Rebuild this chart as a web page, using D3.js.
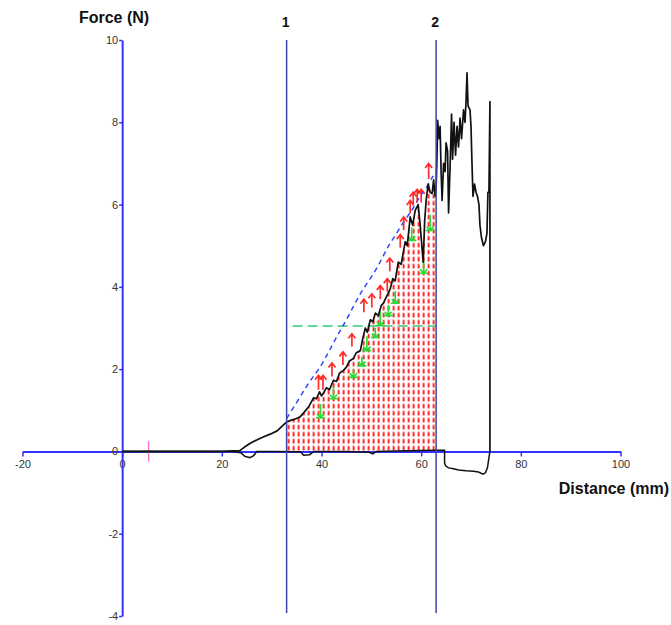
<!DOCTYPE html>
<html><head><meta charset="utf-8">
<script src="https://cdn.jsdelivr.net/npm/d3@7"></script>
<style>body{margin:0;background:#fff} svg{display:block}</style>
</head><body>
<svg id="c" width="671" height="625"></svg>
<script>
// ---------- data ----------
const xTicks = [-20, 0, 20, 40, 60, 80, 100];
const yTicks = [-4, -2, 0, 2, 4, 6, 8, 10];
const markerLabels = ["1", "2"];
const markerX = [33, 63];

// approach (forward) trace: [distance mm, force N]
const approach = [
 [0,0],[10,0],[20,0],[23.6,0.02],[24.5,0.1],[25.7,0.2],[27,0.28],[28.3,0.35],[29.7,0.42],[31.1,0.5],[32,0.6],[32.7,0.68],
 [33,0.72],[34,0.76],[35,0.8],[35.7,0.84],[36.5,0.95],[37.5,1.1],[38.4,1.3],[39,1.28],[39.6,1.45],[40,1.35],[40.4,1.42],
 [41,1.55],[41.6,1.5],[42.4,1.73],[43,1.7],[43.6,1.9],[44.4,1.97],[45,2.05],[45.6,2.2],[46.4,2.26],[47,2.4],[47.8,2.45],
 [48.2,2.7],[48.8,3.0],[49.2,2.9],[49.8,3.2],[50.3,3.15],[50.8,3.36],[51.4,3.3],[52,3.55],[52.4,3.6],[53,3.75],[53.8,3.95],
 [54.3,4.2],[54.8,4.15],[55.4,4.6],[56,4.55],[56.8,5.1],[57.2,5.0],[57.8,5.7],[58.3,5.5],[58.8,5.86],[59.4,6.0],[59.8,5.5],
 [60.2,4.9],[60.4,4.6],[60.7,5.6],[61.0,6.1],[61.4,6.5],[61.8,6.3],[62.2,6.27],[62.5,6.6],[62.8,6.2],[63.0,6.4],
 [63.2,7.3],[63.3,8.05],[63.6,7.6],[63.8,7.9],[64.0,6.8],[64.2,6.1],[64.5,7.0],[64.8,6.8],[65.0,7.5],[65.3,7.3],[65.5,5.8],
 [65.8,6.9],[66.1,8.2],[66.3,7.1],[66.6,8.0],[66.9,7.2],[67.2,7.9],[67.5,7.4],[67.8,8.1],[68.1,7.6],[68.5,8.3],[68.8,8.0],
 [69.0,8.5],[69.2,9.2],[69.4,8.4],[69.8,8.3],[70.0,7.9],[70.2,7.0],[70.4,6.2],[70.7,6.5],[71.0,6.3],[71.3,6.2],[71.6,6.0],
 [71.8,5.5],[72.1,5.2],[72.5,5.0],[72.9,5.1],[73.2,5.3],[73.4,6.3],[73.6,6.3],[73.8,8.5],[73.8,0.0]
];
// retraction trace
const retract = [
 [73.8,0.0],[73.6,-0.15],[73.3,-0.4],[72.9,-0.52],[72.4,-0.55],[71.5,-0.5],[70.5,-0.48],[69,-0.47],[67.5,-0.45],
 [66.5,-0.42],[65.5,-0.4],[64.9,-0.35],[64.7,-0.28],[64.7,0.03],[63,0.03],[60,0.02],[55,0.01],[51,0.0],[50.3,-0.06],
 [49.6,-0.02],[45,0],[38.5,0],[37.6,-0.08],[36.4,-0.09],[35.8,-0.01],[30,0],[27,0],[26.4,-0.1],[25.6,-0.15],
 [24.6,-0.12],[23.8,-0.03],[22,0],[10,0],[0,0]
];
// fitted (blue dashed) curve
const fitCurve = [
 [33,0.8],[35.7,1.32],[37.7,1.73],[39.4,1.97],[41.4,2.4],[43.2,2.83],[44.4,3.06],[46.2,3.48],[47.8,3.84],[49.2,4.1],
 [51.2,4.45],[53.2,4.96],[54.4,5.17],[56.4,5.57],[58.4,5.9],[59.8,6.22],[60.8,6.35],[62.4,6.7]
];
const meanLevel = 3.05;
const meanRange = [34.2, 63];
// red (up) arrows: x, base, tip
const redArrowX    = [39.4, 40.3, 42.1, 44.3, 46.1, 48.5, 50.1, 51.8, 53.2, 53.7, 55.8, 56.5, 57.8, 58.4, 59.2, 60.0, 61.5];
const redArrowBase = [1.5, 1.5, 1.82, 2.1, 2.55, 3.38, 3.5, 3.7, 3.88, 4.38, 4.95, 5.38, 5.78, 5.98, 6.05, 6.05, 6.62];
const redArrowTip  = [1.85, 1.85, 2.15, 2.42, 2.86, 3.7, 3.83, 4.03, 4.2, 4.7, 5.27, 5.7, 6.1, 6.3, 6.37, 6.37, 7.0];
// green (down) arrows: x, top, bottom
const greenArrowX      = [39.8, 42.4, 46.4, 48.1, 49.1, 50.8, 51.8, 53.4, 54.8, 58.1, 60.5, 61.8];
const greenArrowTop    = [1.15, 1.58, 2.0, 2.3, 2.8, 3.0, 3.4, 3.55, 3.9, 5.45, 4.65, 5.75];
const greenArrowBottom = [0.82, 1.28, 1.8, 2.08, 2.45, 2.77, 3.06, 3.3, 3.6, 5.13, 4.33, 5.37];
const pinkTick = [5.3, -0.25, 0.25];
const greenSeg = [3.6, 7.2];

// ---------- drawing ----------
const svg = d3.select("#c");
const x = d3.scaleLinear().domain([-20, 100]).range([22.5, 620.5]);
const y = d3.scaleLinear().domain([-4, 10]).range([616, 40]);
const axisBlue = "#3333ff", lineBlue = "#3b44a8", red = "#ff2a2a", green = "#22dd33";
const font = "Liberation Sans, Arial, sans-serif";
const fmt = d => String(d);

const defs = svg.append("defs");
const pat = defs.append("pattern").attr("id", "hatch").attr("patternUnits", "userSpaceOnUse")
  .attr("width", 5).attr("height", 7).attr("x", x(markerX[0])).attr("y", y(0));
pat.append("rect").attr("x", 1).attr("y", 1.5).attr("width", 2).attr("height", 4.5).attr("fill", red);

// hatched region under curve between markers
const hatchPts = approach.filter(d => d[0] >= markerX[0] && d[0] <= markerX[1]);
const area = d3.area().x(d => x(d[0])).y0(y(0)).y1(d => y(d[1]));
svg.append("path").datum(hatchPts).attr("d", area).attr("fill", "url(#hatch)");

// axes
const gx = svg.append("g").attr("transform", `translate(0,${y(0)})`)
  .call(d3.axisBottom(x).tickValues(xTicks).tickSize(5).tickSizeOuter(0).tickPadding(4).tickFormat(fmt));
gx.select(".domain").attr("stroke", axisBlue).attr("stroke-width", 2);
gx.selectAll(".tick line").attr("stroke", axisBlue).attr("stroke-width", 1.5);
gx.selectAll(".tick text").attr("fill", "#333").style("font", `11px ${font}`);

const gy = svg.append("g").attr("transform", `translate(${x(0)},0)`)
  .call(d3.axisLeft(y).tickValues(yTicks).tickSize(3).tickSizeOuter(0).tickPadding(1).tickFormat(fmt));
gy.select(".domain").attr("stroke", axisBlue).attr("stroke-width", 2);
gy.selectAll(".tick line").attr("stroke", axisBlue).attr("stroke-width", 1.5);
gy.selectAll(".tick text").attr("fill", "#333").style("font", `11px ${font}`);

// small marks near origin
svg.append("line").attr("x1", x(greenSeg[0])).attr("x2", x(greenSeg[1])).attr("y1", y(0)).attr("y2", y(0))
  .attr("stroke", green).attr("stroke-width", 1.5);
svg.append("line").attr("x1", x(pinkTick[0])).attr("x2", x(pinkTick[0])).attr("y1", y(pinkTick[1])).attr("y2", y(pinkTick[2]))
  .attr("stroke", "#ff77cc").attr("stroke-width", 1.5);

// mean level (green dashed)
svg.append("line").attr("x1", x(meanRange[0])).attr("x2", x(meanRange[1])).attr("y1", y(meanLevel)).attr("y2", y(meanLevel))
  .attr("stroke", "#33cc77").attr("stroke-width", 1.5).attr("stroke-dasharray", "10,5");

// fitted curve (blue dashed)
svg.append("path").datum(fitCurve)
  .attr("d", d3.line().x(d => x(d[0])).y(d => y(d[1])).curve(d3.curveBasis))
  .attr("fill", "none").attr("stroke", "#3344ff").attr("stroke-width", 1.5).attr("stroke-dasharray", "5,4");

// green arrows
const ga = svg.append("g").attr("stroke", green).attr("stroke-width", 1.6).attr("fill", "none");
greenArrowX.forEach((gxv, i) => {
  const px = x(gxv), t = y(greenArrowTop[i]), b = y(greenArrowBottom[i]);
  ga.append("path").attr("d", `M${px},${t}L${px},${b}M${px-3.5},${b-4}L${px},${b}L${px+3.5},${b-4}M${px-4.5},${b}L${px+4.5},${b}`);
});

// force traces
const line = d3.line().x(d => x(d[0])).y(d => y(d[1]));
svg.append("path").datum(retract).attr("d", line).attr("fill", "none").attr("stroke", "#111").attr("stroke-width", 1.5);
svg.append("path").datum(approach).attr("d", line).attr("fill", "none").attr("stroke", "#111").attr("stroke-width", 1.7)
  .attr("stroke-linejoin", "round");

// red arrows
const ra = svg.append("g").attr("stroke", red).attr("stroke-width", 1.7).attr("fill", "none");
redArrowX.forEach((rx, i) => {
  const px = x(rx), b = y(redArrowBase[i]), t = y(redArrowTip[i]);
  ra.append("path").attr("d", `M${px},${b}L${px},${t}M${px-3.5},${t+4.5}L${px},${t}L${px+3.5},${t+4.5}`);
});

// marker lines
markerX.forEach((mx, i) => {
  svg.append("line").attr("x1", x(mx)).attr("x2", x(mx)).attr("y1", y(10)).attr("y2", 613)
    .attr("stroke", lineBlue).attr("stroke-width", 1.5);
  svg.append("text").attr("x", x(mx) - 1).attr("y", 27).attr("text-anchor", "middle")
    .style("font", `bold 14px ${font}`).attr("fill", "#111").text(markerLabels[i]);
});

// axis titles
svg.append("text").attr("x", 114).attr("y", 23).attr("text-anchor", "middle")
  .style("font", `bold 16px ${font}`).attr("fill", "#111").text("Force (N)");
svg.append("text").attr("x", 669).attr("y", 494).attr("text-anchor", "end")
  .style("font", `bold 16px ${font}`).attr("fill", "#111").text("Distance (mm)");
</script>
</body></html>
